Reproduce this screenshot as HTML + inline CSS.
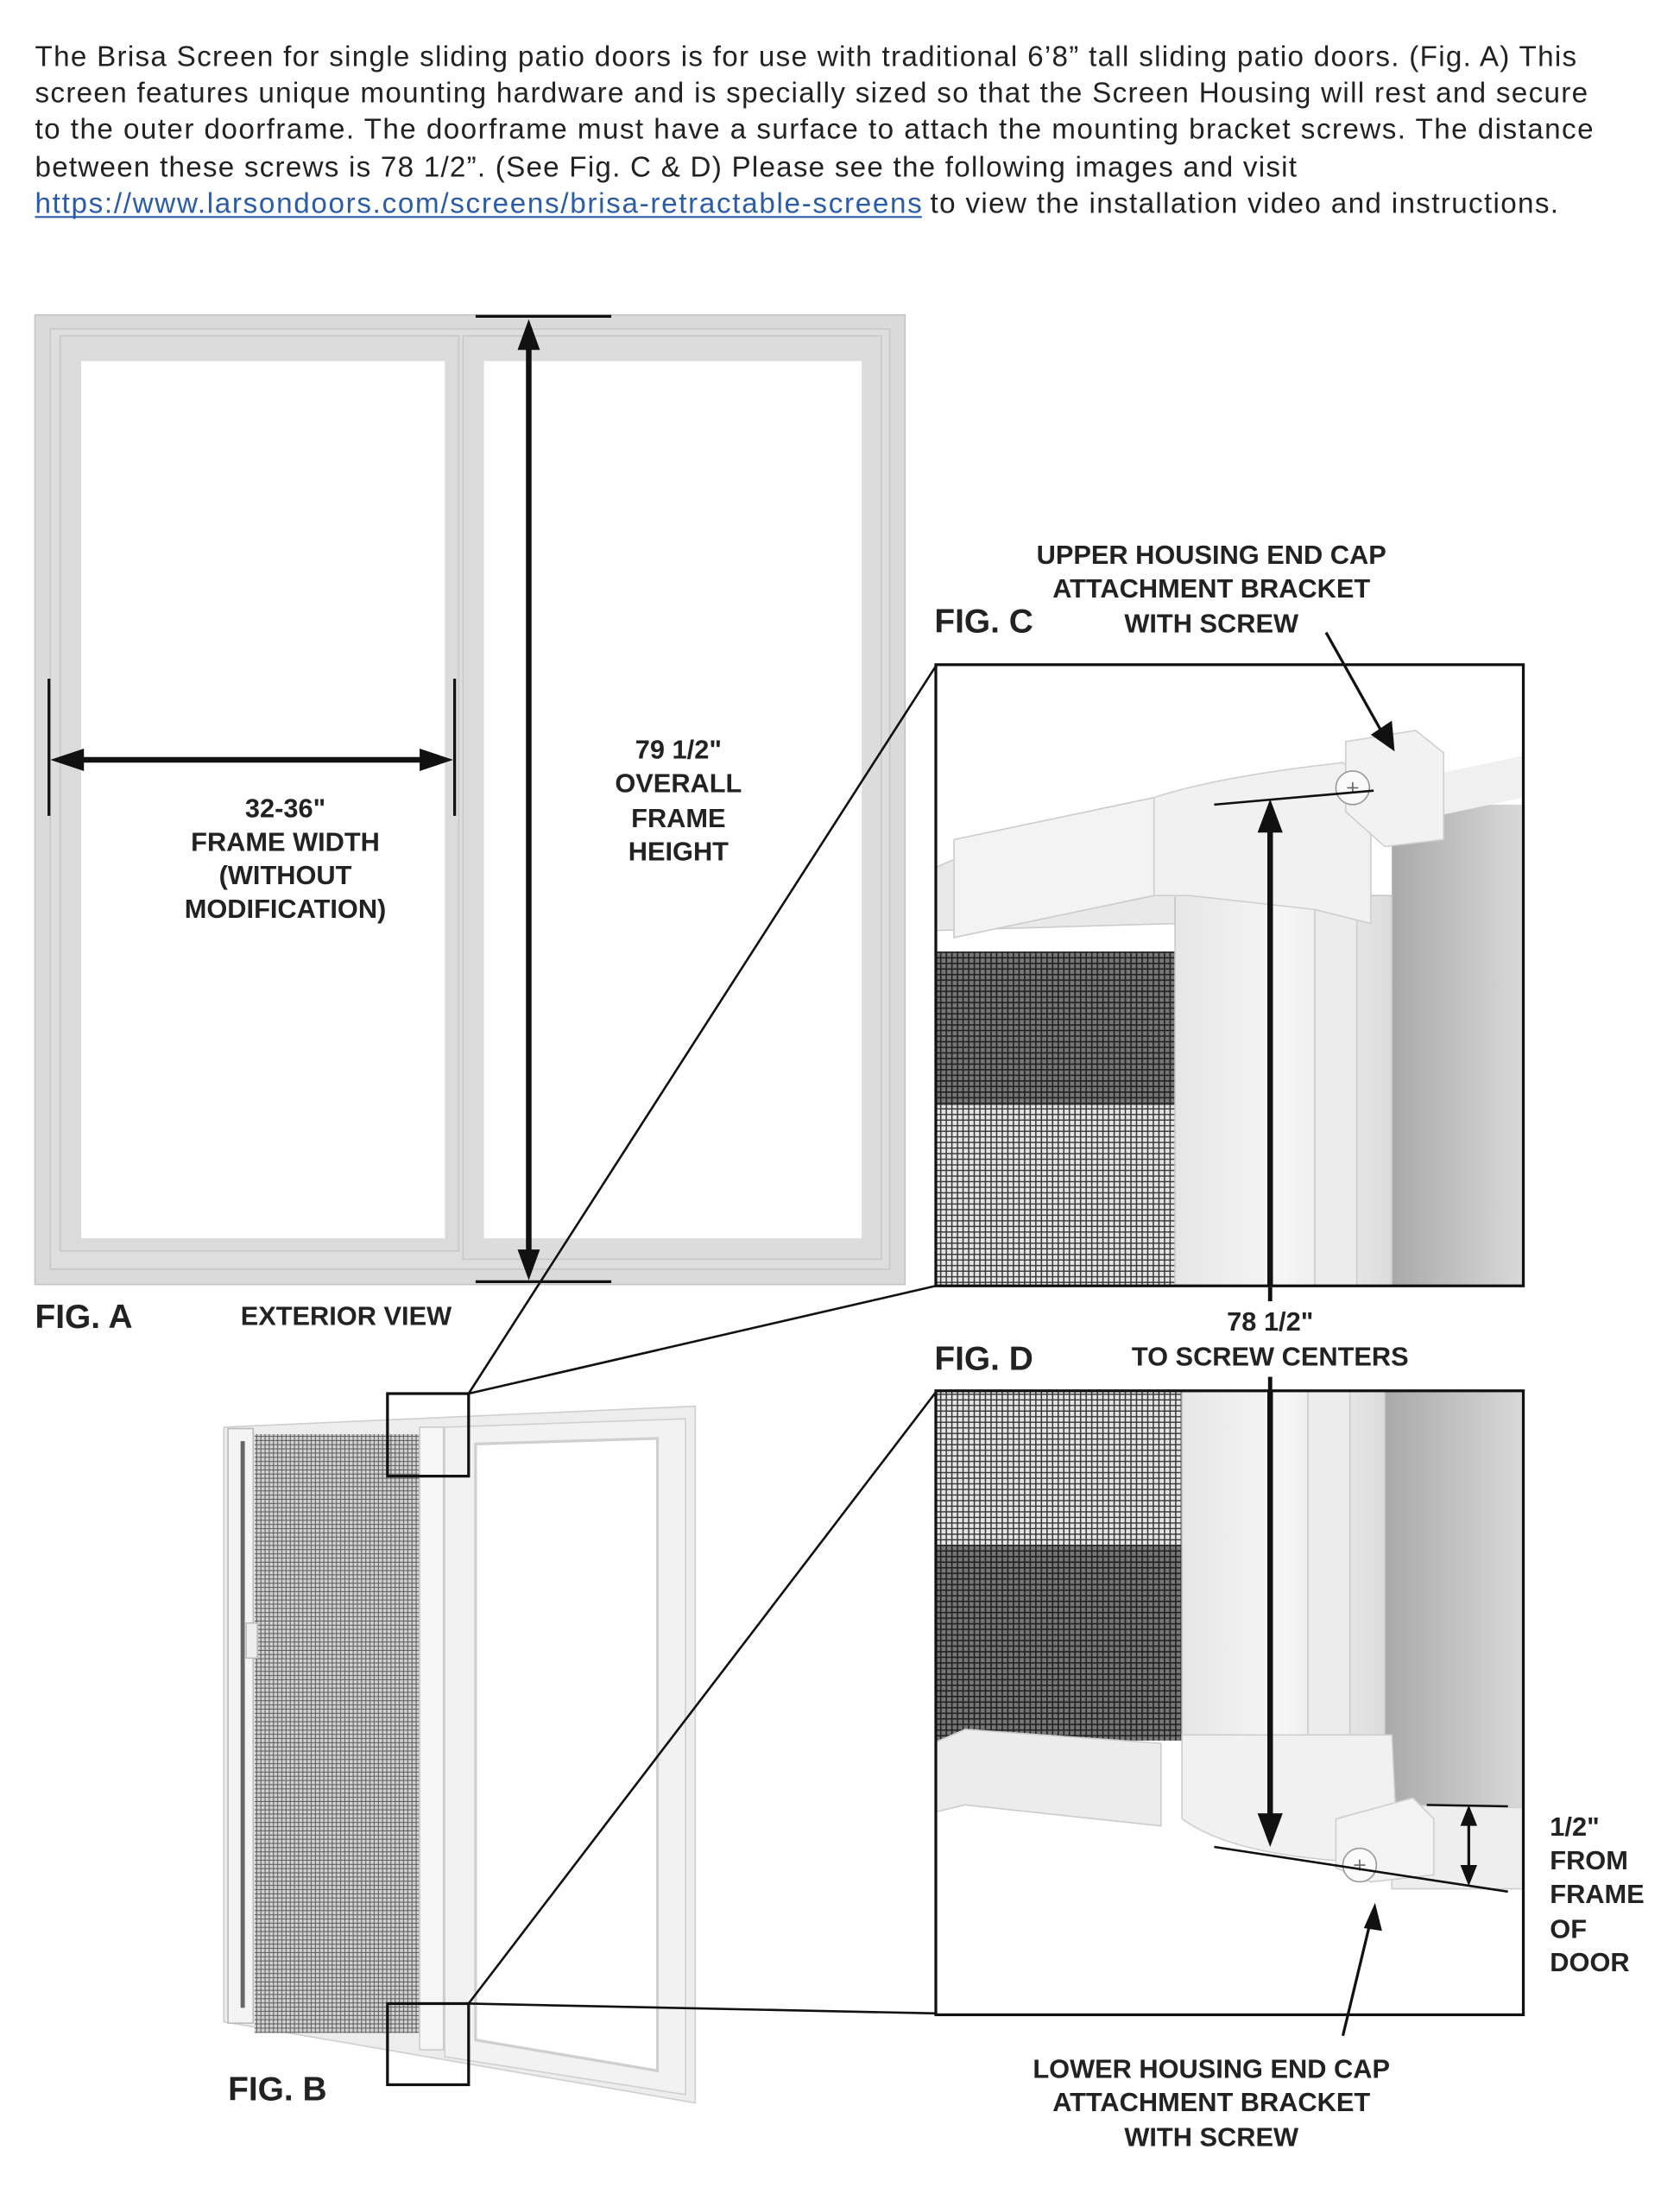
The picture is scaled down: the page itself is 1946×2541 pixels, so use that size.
<!DOCTYPE html>
<html><head><meta charset="utf-8"><style>
html,body{margin:0;padding:0;background:#fff;}
svg{display:block}
.t{font-family:"Liberation Sans",sans-serif;font-size:20.5px;fill:#222}
.b{font-family:"Liberation Sans",sans-serif;font-weight:bold;fill:#222;font-size:19px}
.f{font-family:"Liberation Sans",sans-serif;font-weight:bold;fill:#222;font-size:24px}
</style></head><body>
<svg width="1946" height="2541" viewBox="0 0 1201 1568" xmlns="http://www.w3.org/2000/svg">
<defs>
<pattern id="mesh" width="4" height="4" patternUnits="userSpaceOnUse"><rect width="4" height="4" fill="#e4e4e4"/><path d="M0 0.5H4M0.5 0V4" stroke="#333" stroke-width="0.9"/></pattern>
<pattern id="meshd" width="4" height="4" patternUnits="userSpaceOnUse"><rect width="4" height="4" fill="#777"/><path d="M0 0.5H4M0.5 0V4" stroke="#222" stroke-width="1"/></pattern>
<pattern id="meshs" width="3" height="3" patternUnits="userSpaceOnUse"><rect width="3" height="3" fill="#d2d2d2"/><path d="M0 0.5H3M0.5 0V3" stroke="#555" stroke-width="0.6"/></pattern>
<linearGradient id="gr" x1="0" x2="1"><stop offset="0" stop-color="#a9a9a9"/><stop offset="1" stop-color="#d9d9d9"/></linearGradient>
<linearGradient id="col" x1="0" x2="1"><stop offset="0" stop-color="#e6e6e6"/><stop offset="0.5" stop-color="#f6f6f6"/><stop offset="1" stop-color="#dcdcdc"/></linearGradient>
</defs>

<text class="t" x="25" y="47" textLength="1102">The Brisa Screen for single sliding patio doors is for use with traditional 6’8” tall sliding patio doors. (Fig. A) This</text>
<text class="t" x="25" y="73" textLength="1110">screen features unique mounting hardware and is specially sized so that the Screen Housing will rest and secure</text>
<text class="t" x="25" y="99" textLength="1114">to the outer doorframe. The doorframe must have a surface to attach the mounting bracket screws. The distance</text>
<text class="t" x="25" y="126" textLength="902">between these screws is 78 1/2”. (See Fig. C &amp; D) Please see the following images and visit</text>
<text class="t" x="25" y="152" textLength="634" fill="#2a5ca8" style="fill:#2a5ca8">https://www.larsondoors.com/screens/brisa-retractable-screens</text>
<text class="t" x="665" y="152" textLength="449">to view the installation video and instructions.</text>
<line x1="25" y1="155" x2="659" y2="155" stroke="#2a5ca8" stroke-width="1.3"/>

<!-- FIG A -->
<rect x="25" y="225" width="622" height="693" fill="#dadada" stroke="#c4c4c4"/>
<rect x="36" y="235" width="600" height="672" fill="#dedede" stroke="#c8c8c8"/>
<rect x="43" y="240" width="285" height="654" fill="#dbdbdb" stroke="#c8c8c8"/>
<rect x="58" y="258" width="260" height="627" fill="#fff"/>
<rect x="331" y="240" width="299" height="660" fill="#dcdcdc" stroke="#c8c8c8"/>
<rect x="346" y="258" width="270" height="627" fill="#fff"/>
<line x1="35" y1="485" x2="35" y2="583" stroke="#111" stroke-width="2"/>
<line x1="325" y1="485" x2="325" y2="583" stroke="#111" stroke-width="2"/>
<line x1="50" y1="543" x2="310" y2="543" stroke="#111" stroke-width="4"/>
<polygon points="36,543 60,535 60,551" fill="#111"/>
<polygon points="324,543 300,535 300,551" fill="#111"/>
<line x1="340" y1="226" x2="437" y2="226" stroke="#111" stroke-width="2"/>
<line x1="340" y1="916" x2="437" y2="916" stroke="#111" stroke-width="2"/>
<line x1="378" y1="245" x2="378" y2="898" stroke="#111" stroke-width="4"/>
<polygon points="378,228 370,250 386,250" fill="#111"/>
<polygon points="378,915 370,893 386,893" fill="#111"/>
<g class="b" text-anchor="middle">
<text x="485" y="542">79 1/2"</text><text x="485" y="566">OVERALL</text><text x="485" y="591">FRAME</text><text x="485" y="615">HEIGHT</text>
<text x="204" y="584">32-36"</text><text x="204" y="608">FRAME WIDTH</text><text x="204" y="632">(WITHOUT</text><text x="204" y="656">MODIFICATION)</text>
</g>
<text class="f" x="25" y="949">FIG. A</text>
<text class="b" x="172" y="947">EXTERIOR VIEW</text>

<!-- FIG B -->
<polygon points="160,1020 497,1005 497,1503 160,1445" fill="#ededed" stroke="#cfcfcf"/>
<polygon points="318,1020 490,1014 490,1497 318,1470" fill="#f2f2f2" stroke="#d0d0d0"/>
<polygon points="340,1032 470,1028 470,1480 340,1458" fill="#fff" stroke="#cfcfcf" stroke-width="2"/>
<rect x="163" y="1021" width="18" height="425" fill="#f4f4f4" stroke="#bbb"/>
<rect x="172" y="1030" width="3" height="405" fill="#666"/>
<rect x="182" y="1025" width="118" height="428" fill="url(#meshs)"/>
<rect x="300" y="1020" width="17" height="445" fill="#f6f6f6" stroke="#ccc"/>
<rect x="176" y="1160" width="8" height="25" fill="#eee" stroke="#bbb"/>
<text class="f" x="163" y="1501">FIG. B</text>
<rect x="277" y="996" width="58" height="59" fill="none" stroke="#111" stroke-width="2"/>
<rect x="277" y="1432" width="58" height="58" fill="none" stroke="#111" stroke-width="2"/>
<line x1="335" y1="996" x2="669" y2="919" stroke="#111" stroke-width="1.6"/>
<line x1="335" y1="996" x2="669" y2="476" stroke="#111" stroke-width="1.6"/>
<line x1="335" y1="1432" x2="669" y2="995" stroke="#111" stroke-width="1.6"/>
<line x1="335" y1="1432" x2="669" y2="1439" stroke="#111" stroke-width="1.6"/>

<!-- FIG C -->
<text class="f" x="668" y="452">FIG. C</text>
<g class="b" text-anchor="middle"><text x="866" y="403">UPPER HOUSING END CAP</text><text x="866" y="427">ATTACHMENT BRACKET</text><text x="866" y="452">WITH SCREW</text></g>
<rect x="669" y="475" width="420" height="444" fill="#fff"/>
<rect x="995" y="575" width="94" height="344" fill="url(#gr)"/>
<polygon points="995,560 1089,540 1089,570 995,590" fill="#f0f0f0"/>
<rect x="669" y="680" width="172" height="110" fill="url(#meshd)"/>
<rect x="669" y="790" width="172" height="129" fill="url(#mesh)"/>
<polygon points="669,620 680,615 825,580 840,600 840,660 669,665" fill="#e9e9e9" stroke="#ccc"/>
<polygon points="682,600 825,570 825,640 682,670" fill="#f3f3f3" stroke="#ccc"/>
<rect x="840" y="640" width="155" height="279" fill="url(#col)" stroke="#c8c8c8"/>
<rect x="940" y="650" width="30" height="269" fill="#ececec" stroke="#ccc"/>
<path d="M825,570 Q870,555 960,545 L980,560 L980,660 L940,650 L850,640 L825,640 Z" fill="#f1f1f1" stroke="#cfcfcf"/>
<polygon points="962,530 1012,522 1032,538 1032,600 990,605 962,580" fill="#f2f2f2" stroke="#cfcfcf"/>
<circle cx="967" cy="563" r="12" fill="#fafafa" stroke="#999"/>
<path d="M963 563h8M967 559v8" stroke="#666"/>
<rect x="669" y="475" width="420" height="444" fill="none" stroke="#111" stroke-width="2"/>
<line x1="868" y1="575" x2="982" y2="565" stroke="#111" stroke-width="1.6"/>
<line x1="948" y1="452" x2="990" y2="527" stroke="#111" stroke-width="2"/>
<polygon points="997,537 980,525 995,515" fill="#111"/>

<!-- FIG D -->
<text class="f" x="668" y="979">FIG. D</text>
<g class="b" text-anchor="middle"><text x="908" y="951">78 1/2"</text><text x="908" y="976">TO SCREW CENTERS</text></g>
<rect x="669" y="994" width="420" height="446" fill="#fff"/>
<rect x="990" y="994" width="99" height="298" fill="url(#gr)"/>
<rect x="669" y="994" width="176" height="110" fill="url(#mesh)"/>
<rect x="669" y="1104" width="176" height="140" fill="url(#meshd)"/>
<rect x="845" y="994" width="145" height="260" fill="url(#col)" stroke="#c8c8c8"/>
<rect x="935" y="994" width="30" height="260" fill="#ececec" stroke="#ccc"/>
<polygon points="669,1245 690,1236 830,1246 830,1305 690,1290 669,1295" fill="#ececec" stroke="#ccc"/>
<path d="M845,1240 L995,1240 L998,1300 L1000,1330 L960,1330 Q880,1325 845,1300 Z" fill="#f1f1f1" stroke="#cfcfcf"/>
<polygon points="995,1290 1089,1292 1089,1350 995,1350" fill="#eeeeee" stroke="#d0d0d0"/>
<polygon points="955,1300 1010,1285 1025,1300 1025,1340 980,1345 955,1335" fill="#f3f3f3" stroke="#cfcfcf"/>
<circle cx="972" cy="1333" r="12" fill="#fafafa" stroke="#999"/>
<path d="M968 1333h8M972 1329v8" stroke="#666"/>
<rect x="669" y="994" width="420" height="446" fill="none" stroke="#111" stroke-width="2"/>
<line x1="868" y1="1320" x2="1078" y2="1352" stroke="#111" stroke-width="1.6"/>
<line x1="1020" y1="1290" x2="1078" y2="1291" stroke="#111" stroke-width="1.6"/>
<line x1="1050" y1="1300" x2="1050" y2="1338" stroke="#111" stroke-width="2"/>
<polygon points="1050,1290 1044,1305 1056,1305" fill="#111"/>
<polygon points="1050,1348 1044,1333 1056,1333" fill="#111"/>
<g class="b"><text x="1108" y="1312">1/2"</text><text x="1108" y="1336">FROM</text><text x="1108" y="1360">FRAME</text><text x="1108" y="1385">OF</text><text x="1108" y="1409">DOOR</text></g>
<line x1="960" y1="1455" x2="980" y2="1372" stroke="#111" stroke-width="2"/>
<polygon points="983,1360 975,1378 988,1380" fill="#111"/>
<g class="b" text-anchor="middle"><text x="866" y="1485">LOWER HOUSING END CAP</text><text x="866" y="1509">ATTACHMENT BRACKET</text><text x="866" y="1534">WITH SCREW</text></g>

<line x1="908" y1="585" x2="908" y2="919" stroke="#111" stroke-width="4"/>
<line x1="908" y1="920" x2="908" y2="930" stroke="#111" stroke-width="3"/>
<line x1="908" y1="984" x2="908" y2="994" stroke="#111" stroke-width="3"/>
<line x1="908" y1="994" x2="908" y2="1305" stroke="#111" stroke-width="4"/>
<polygon points="908,571 899,595 917,595" fill="#111"/>
<polygon points="908,1320 899,1296 917,1296" fill="#111"/>
</svg>
</body></html>
